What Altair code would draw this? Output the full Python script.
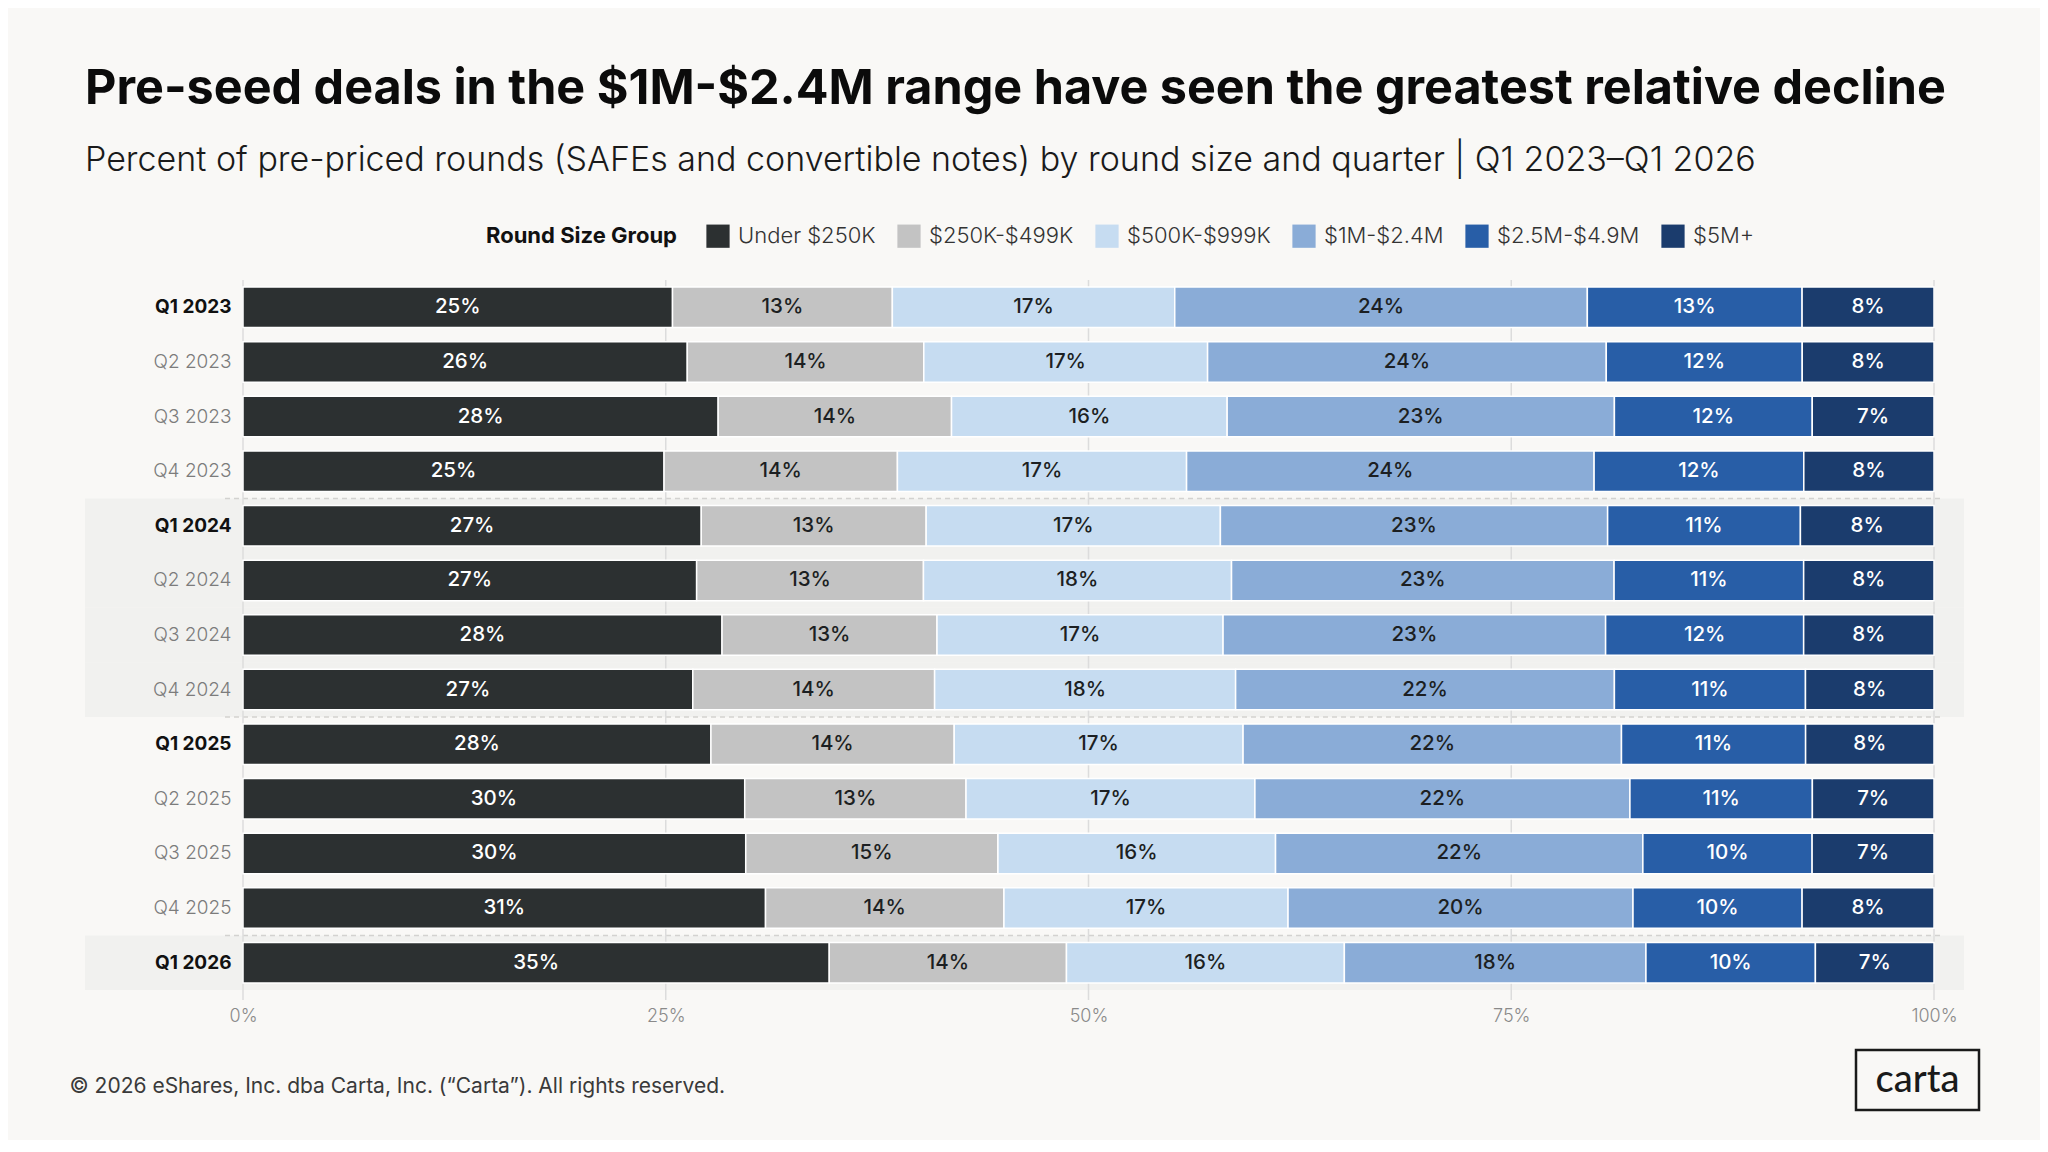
import altair as alt
import pandas as pd

quarters = ["Q1 2023", "Q2 2023", "Q3 2023", "Q4 2023",
            "Q1 2024", "Q2 2024", "Q3 2024", "Q4 2024",
            "Q1 2025", "Q2 2025", "Q3 2025", "Q4 2025",
            "Q1 2026"]
groups = ["Under $250K", "$250K-$499K", "$500K-$999K", "$1M-$2.4M", "$2.5M-$4.9M", "$5M+"]
colors = ["#2c3031", "#c3c3c3", "#c6dcf1", "#8aacd7", "#285ea7", "#1b3c6d"]
text_colors = ["#ffffff", "#1c1f22", "#1c1f22", "#1c1f22", "#ffffff", "#ffffff"]

under_250k = [25.4, 26.3, 28.1, 24.9, 27.1, 26.8, 28.3, 26.6, 27.7, 29.7, 29.7, 30.9, 34.6]
k250_499 = [13.0, 14.0, 13.8, 13.8, 13.3, 13.4, 12.7, 14.3, 14.4, 13.1, 14.9, 14.1, 14.0]
k500_999 = [16.7, 16.8, 16.3, 17.1, 17.4, 18.2, 16.9, 17.8, 17.1, 17.1, 16.4, 16.8, 16.4]
m1_24 = [24.4, 23.6, 22.9, 24.1, 22.9, 22.6, 22.6, 22.4, 22.4, 22.2, 21.7, 20.4, 17.8]
m25_49 = [12.7, 11.6, 11.7, 12.4, 11.4, 11.2, 11.7, 11.3, 10.9, 10.8, 10.0, 10.0, 10.0]
m5_plus = [7.8, 7.8, 7.2, 7.7, 7.9, 7.7, 7.7, 7.6, 7.6, 7.2, 7.2, 7.8, 7.0]

series = [under_250k, k250_499, k500_999, m1_24, m25_49, m5_plus]

shaded_quarters = ["Q1 2024", "Q2 2024", "Q3 2024", "Q4 2024", "Q1 2026"]
year_starts = ["Q1 2024", "Q1 2025", "Q1 2026"]
x_ticks = [0, 0.25, 0.5, 0.75, 1.0]

rows = []
for gi, (g, vals) in enumerate(zip(groups, series)):
    for q, v in zip(quarters, vals):
        rows.append({"quarter": q, "group": g, "order": gi, "value": v,
                     "tc": text_colors[gi]})
df = pd.DataFrame(rows)

W = 1691
H = 710
BG = "#f9f8f6"
FONT = "Inter"

yscale = alt.Scale(domain=quarters, paddingInner=0, paddingOuter=0)
xscale = alt.Scale(domain=[0, 1])

x_axis = alt.Axis(values=x_ticks, format=".0%", grid=False, domain=False,
                  ticks=False, labelColor="#8a8a8a", labelFontSize=18,
                  labelFont=FONT, labelFontWeight=300, labelPadding=17,
                  labelFlush=False,
                  title="© 2026 eShares, Inc. dba Carta, Inc. (“Carta”). All rights reserved.",
                  titleX=-174, titleY=96, titleAlign="left",
                  titleBaseline="middle", titleFont=FONT,
                  titleFontSize=21, titleFontWeight="normal",
                  titleColor="#3a3a3a", titleLimit=1000)
q1_test = "indexof(datum.label, 'Q1') === 0"
y_axis = alt.Axis(title=None, domain=False, ticks=False, grid=False,
                  labelPadding=12, labelFont=FONT, labelFontSize=19, zindex=1,
                  labelFontWeight={"condition": {"test": q1_test, "value": "bold"}, "value": 300},
                  labelColor={"condition": {"test": q1_test, "value": "#111111"}, "value": "#7c7c7c"})

shade = alt.Chart(pd.DataFrame({"quarter": shaded_quarters})).mark_bar(
    color="#f1f1ef"
).encode(
    y=alt.Y("quarter:N", scale=yscale, sort=quarters, axis=y_axis),
    x=alt.value(-158),
    x2=alt.value(W + 30),
)

seps = alt.Chart(pd.DataFrame({"quarter": year_starts})).mark_rule(
    color="#d3d2d0", strokeDash=[5, 4], strokeWidth=1.5
).encode(
    y=alt.Y("quarter:N", scale=yscale, sort=quarters, bandPosition=0, axis=y_axis),
    x=alt.value(-18),
    x2=alt.value(W + 6),
)

grid = alt.Chart(pd.DataFrame({"tick": x_ticks})).mark_rule(
    color="#dcdcdc", strokeWidth=1.5
).encode(
    x=alt.X("tick:Q", scale=xscale, axis=x_axis),
    y=alt.value(0),
    y2=alt.value(H + 10),
)

base = alt.Chart(df).transform_stack(
    stack="value", groupby=["quarter"], as_=["x0", "x1"],
    sort=[alt.SortField("order", order="ascending")], offset="normalize"
).transform_calculate(
    mid="(datum.x0 + datum.x1) / 2",
    label="round(datum.value) + '%'",
)

bars = base.mark_bar(height=40.5, stroke="#ffffff", strokeWidth=1.5).encode(
    x=alt.X("x0:Q", scale=xscale, axis=x_axis),
    x2="x1:Q",
    y=alt.Y("quarter:N", scale=yscale, sort=quarters, axis=y_axis),
    color=alt.Color("group:N", scale=alt.Scale(domain=groups, range=colors),
                    sort=groups,
                    legend=alt.Legend(title="Round Size Group", orient="none",
                                      legendX=243, legendY=-56,
                                      direction="horizontal", titleOrient="left",
                                      titleFont=FONT, titleFontSize=22,
                                      titleFontWeight="bold", titleColor="#111111",
                                      titlePadding=29, titleLimit=400,
                                      labelFont=FONT, labelLimit=400,
                                      labelFontSize=22, labelColor="#333333",
                                      labelFontWeight=300,
                                      symbolType="square", symbolSize=540,
                                      symbolStrokeWidth=0, symbolOpacity=1,
                                      labelOffset=8, columnPadding=21,
                                      titleBaseline="middle")),
    order=alt.Order("order:Q"),
)

texts = base.mark_text(font=FONT, fontSize=20.5, fontWeight=500).encode(
    x=alt.X("mid:Q", scale=xscale, axis=x_axis),
    y=alt.Y("quarter:N", scale=yscale, sort=quarters, axis=y_axis),
    text="label:N",
    color=alt.Color("tc:N", scale=None, legend=None),
)

logo_df = pd.DataFrame({"logo": ["carta"]})
logo_box = alt.Chart(logo_df).mark_rect(
    fill=None, stroke="#1a1a1a", strokeWidth=2.5
).encode(
    x=alt.value(1613), x2=alt.value(1736),
    y=alt.value(770), y2=alt.value(830),
)
logo_text = alt.Chart(logo_df).mark_text(
    font="Lato", fontSize=38, fontWeight=500, color="#1a1a1a"
).encode(
    x=alt.value(1674.5), y=alt.value(801), text="logo:N",
)

chart = alt.layer(shade, seps, grid, bars, texts, logo_box, logo_text).resolve_scale(
    color="independent"
).properties(
    width=W,
    height=H,
    autosize=alt.AutoSizeParams(type="none"),
    padding={"left": 235, "top": 272, "right": 106, "bottom": 150},
    background=BG,
    title=alt.TitleParams(
        text="Pre-seed deals in the $1M-$2.4M range have seen the greatest relative decline",
        subtitle="Percent of pre-priced rounds (SAFEs and convertible notes) by round size and quarter | Q1 2023–Q1 2026",
        anchor="start", frame="group", dx=-158, offset=45,
        font=FONT, fontSize=48.5, fontWeight="bold", color="#0b0b0b",
        subtitleFont=FONT, subtitleFontSize=34, subtitleFontWeight=300,
        subtitleColor="#1a1a1a", subtitlePadding=30,
    ),
).configure_view(stroke=None)

chart.save("out.html", embed_options={"renderer": "svg", "actions": False})
